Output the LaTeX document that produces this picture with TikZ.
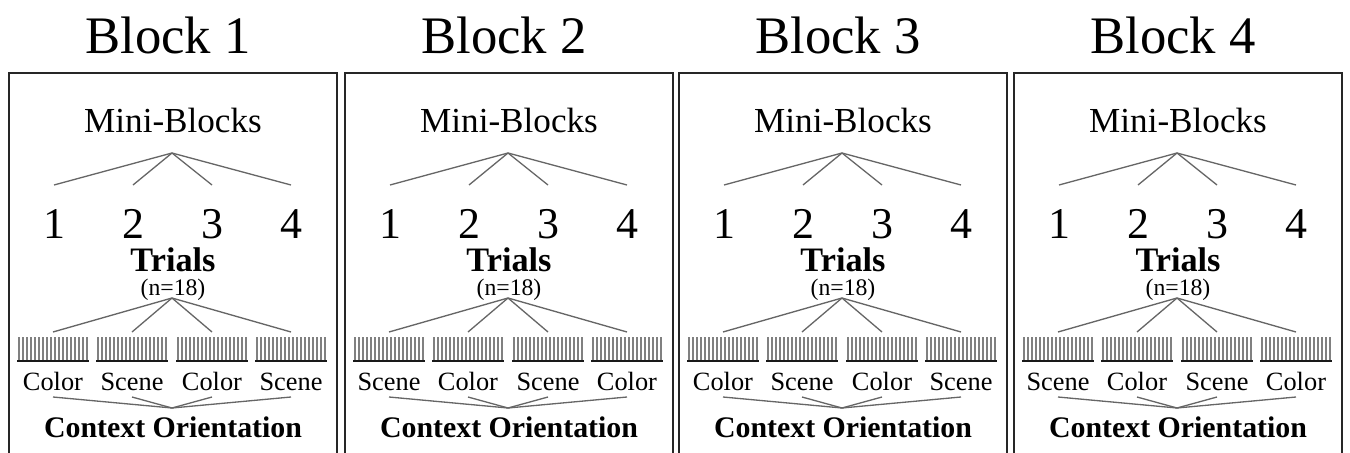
\documentclass[tikz,border=0pt]{standalone}
\usepackage{fontspec}
\setmainfont{Liberation Serif}
\begin{document}
\begin{tikzpicture}[
    x=0.02cm, y=-0.02cm,
    blockbox/.style={draw=black!85, line width=1.4pt},
    title/.style={anchor=base, font=\fontsize{30}{36}\selectfont},
    head/.style={anchor=base, font=\fontsize{20}{24}\selectfont},
    num/.style={anchor=base, font=\fontsize{25}{30}\selectfont},
    trials/.style={anchor=base, inner sep=0pt, font=\fontsize{19.5}{23}\selectfont\bfseries},
    small/.style={anchor=base, inner sep=0pt, font=\fontsize{13.5}{16}\selectfont},
    cond/.style={anchor=base, font=\fontsize{15}{18}\selectfont},
    context/.style={anchor=base, font=\fontsize{17}{20}\selectfont\bfseries},
    branch/.style={draw=black!60, line width=0.75pt},
    tick/.style={draw=black!50, line width=0.9pt},
    barbase/.style={draw=black!90, line width=1.7pt}
]
\useasboundingbox (0,0) rectangle (1350,453);
\clip (0,0) rectangle (1350,453);

\foreach \b/\dx/\first/\second in {1/0/Color/Scene, 2/336/Scene/Color, 3/670/Color/Scene, 4/1005/Scene/Color} {
\begin{scope}[shift={(\dx,0)}]
  \draw[blockbox] (9,73) rectangle (337,480);
  \node[title] (title\b) at (168,53) {Block \b};

  % mini-blocks tree
  \node[head] (mini\b) at (173,132) {Mini-Blocks};
  \coordinate (top\b) at (172,153);
  \foreach \i/\x in {1/54,2/133,3/212,4/291} {
    \node[num] (num\b-\i) at (\x,238) {\i};
    \coordinate (leaf\b-\i) at (\x,185);
    \draw[branch] (top\b) -- (leaf\b-\i);
  }

  % trials tree
  \node[trials] (trials\b) at (173,271) {Trials};
  \node[small] (count\b) at (173,295) {(n=18)};
  \coordinate (mid\b) at (172,298);
  \coordinate (bottom\b) at (172,408);
  \foreach \i/\x/\word in {1/53/\first,2/132/\second,3/212/\first,4/291/\second} {
    \coordinate (bar\b-\i) at (\x,332);
    \draw[branch] (mid\b) -- (bar\b-\i);
    \foreach \k in {0,...,17}
      \draw[tick] (\x-34+\k*4,337) -- ++(0,24);
    \draw[barbase] (\x-36,361) -- (\x+36,361);
    \node[cond] (cond\b-\i) at (\x,390) {\word};
    \coordinate (low\b-\i) at (\x,397);
    \draw[branch] (low\b-\i) -- (bottom\b);
  }

  \node[context] (context\b) at (173,437) {Context Orientation};
\end{scope}
}
\end{tikzpicture}
\end{document}
